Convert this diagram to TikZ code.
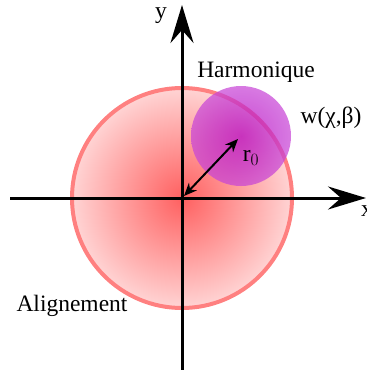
\documentclass[tikz,border=0pt]{standalone}
\usepackage{fontspec}
\setmainfont{Liberation Serif}
\usetikzlibrary{arrows.meta}
\definecolor{redin}{RGB}{255,96,96}
\definecolor{redout}{RGB}{255,212,212}
\definecolor{redline}{RGB}{255,128,128}
\definecolor{magin}{RGB}{180,0,190}
\definecolor{magout}{RGB}{200,70,215}
\pgfdeclareradialshading{redball}{\pgfpoint{0bp}{0bp}}{color(0bp)=(redin); color(25bp)=(redout); color(50bp)=(redout)}
\pgfdeclareradialshading{magball}{\pgfpoint{0bp}{0bp}}{color(0bp)=(magin); color(25bp)=(magout); color(50bp)=(magout)}
\begin{document}
\begin{tikzpicture}[x=1pt,y=-1pt,
  axis/.style={line width=3pt,-{Stealth[length=38pt,width=23pt,inset=13pt]}},
  radius arrow/.style={line width=2pt,{Stealth[length=13pt,width=11pt]}-{Stealth[length=13pt,width=11pt]}},
  lbl/.style={font=\fontsize{23.5}{25}\selectfont,inner sep=0pt}]
\useasboundingbox (0,0) rectangle (367,370);
\coordinate (O) at (182,198);
\coordinate (C) at (241,136);
\coordinate (xl) at (10,198);
\coordinate (xr) at (366,198);
\coordinate (yb) at (182,370);
\coordinate (yt) at (182,5);
% alignment circle
\shade[shading=redball] (O) circle (110);
\draw[line width=4pt,color=redline] (O) circle (110);
% harmonic circle
\shade[shading=magball,opacity=0.72] (C) circle (50);
% axes
\draw[axis] (xl) -- (xr);
\draw[axis] (yb) -- (yt);
% radius
\draw[radius arrow] ([shift={(2,-2)}]O) -- ([shift={(-3,3)}]C);
% labels
\node[lbl] (ylab) at (161,16) {y};
\node[lbl,anchor=west] (xlab) at (361,211) {x};
\node[lbl] (harm) at (256,72) {Harmonique};
\node[lbl] (w) at (331,118) {w(χ,β)};
\node[lbl] (r) at (251,158) {r$_0$};
\node[lbl] (align) at (72,306) {Alignement};
\end{tikzpicture}
\end{document}
